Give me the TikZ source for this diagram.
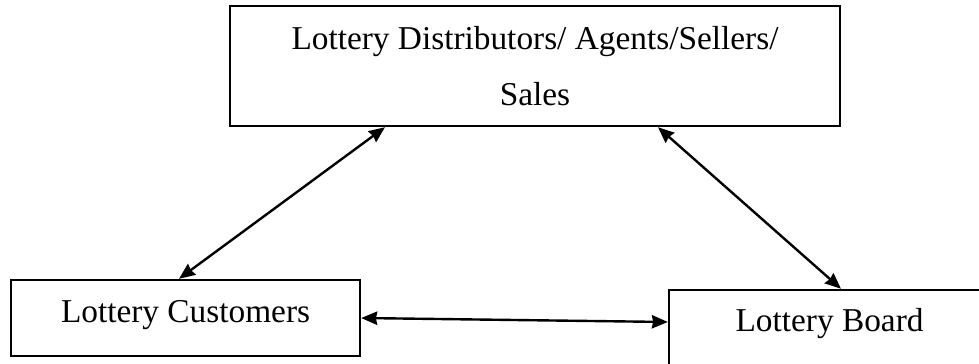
\documentclass[tikz,border=0pt]{standalone}
\usepackage{fontspec}
\setmainfont{Liberation Serif}
\usepackage{tikz}
\usetikzlibrary{positioning, arrows.meta}

\tikzset{
  party/.style={draw, line width=1.8pt, font=\fontsize{25}{42}\selectfont, inner sep=0pt},
}

\begin{document}
\begin{tikzpicture}[<->, >={Stealth[length=12pt, width=10pt, inset=1pt]}, line width=1.8pt, on grid]
      \useasboundingbox (0,0) rectangle (734.25pt,-273pt);
      \node[party, align=center, minimum width=457.5pt, minimum height=90pt] (dist) at (401.25pt,-49.5pt) {Lottery Distributors/ Agents/Sellers/\\Sales};
      \node[party, minimum width=261.75pt, minimum height=57pt, text height=17pt, text depth=11pt, below left=189pt and 262.1pt of dist] (cust) {Lottery Customers};
      \node[party, minimum width=240.75pt, minimum height=67.5pt, text height=17pt, text depth=23pt, below right=201.75pt and 220.9pt of dist] (board) {Lottery Board};
      \path ([xshift=-112.5pt]dist.south) edge ([xshift=-4.9pt]cust.north);
      \path ([xshift=92.25pt]dist.south) edge ([xshift=8.6pt]board.north);
      \path (cust.east) edge ([yshift=9.75pt]board.west);
    \end{tikzpicture}
\end{document}
